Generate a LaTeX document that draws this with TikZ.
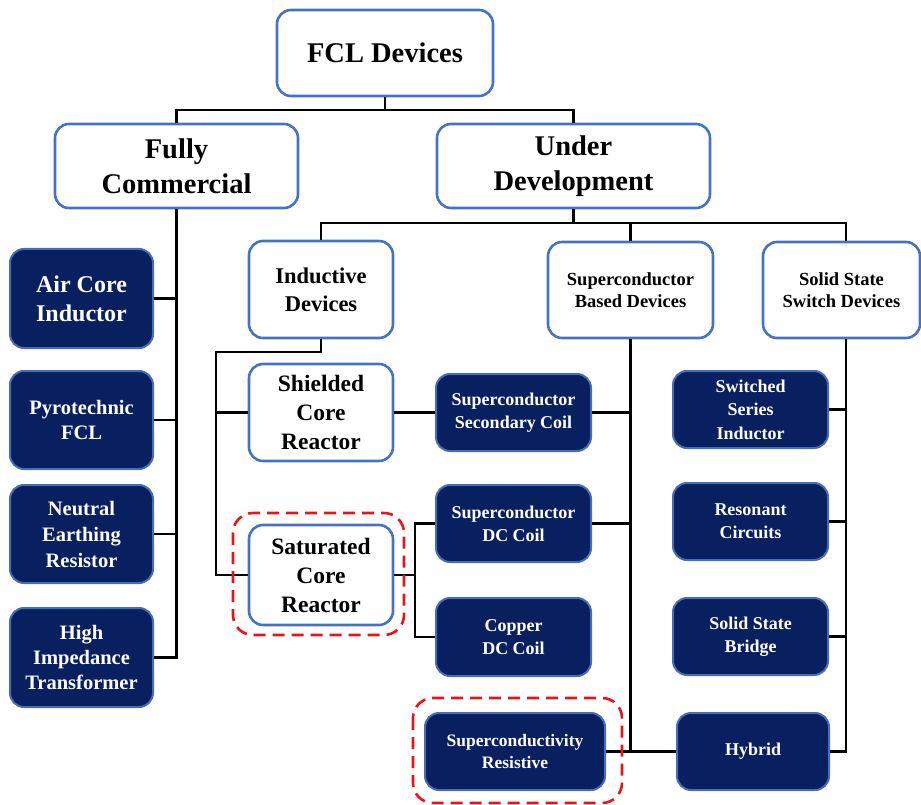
\documentclass[tikz,border=0pt]{standalone}
\usepackage{fontspec}
\setmainfont{Liberation Serif}
\usetikzlibrary{calc}

\definecolor{navyfill}{RGB}{9,32,96}
\definecolor{navyedge}{RGB}{72,108,185}
\definecolor{lightedge}{RGB}{68,114,196}
\definecolor{hlred}{RGB}{232,20,24}

\newcommand{\fs}[2]{\fontsize{#1}{#2}\selectfont}

\tikzset{
  wbox/.style={draw=lightedge, line width=2.6pt, fill=white, rounded corners=14pt,
               align=center, inner sep=0pt, font=\bfseries, text=black},
  dbox/.style={draw=navyedge, line width=2pt, fill=navyfill, rounded corners=14pt,
               align=center, inner sep=0pt, font=\bfseries, text=white},
  conn/.style={draw=black, line width=2.2pt},
  hlbox/.style={draw=hlred, line width=2.6pt, dash pattern=on 12pt off 7pt, rounded corners=20pt},
}

\begin{document}
\begin{tikzpicture}[x=1pt,y=-1pt]
\useasboundingbox (0,0) rectangle (921,805);

% top levels
\node[wbox, minimum width=216pt, minimum height=86pt, font=\bfseries\fs{28.5}{34}] (fcl) at (385,53) {FCL Devices};
\node[wbox, minimum width=243pt, minimum height=84pt, font=\bfseries\fs{28.5}{35}] (fully) at (176.5,166) {Fully\\Commercial};
\node[wbox, minimum width=273pt, minimum height=84pt, font=\bfseries\fs{28.5}{35}] (under) at (573.5,166) {Under\\Development};

% categories under development
\node[wbox, minimum width=144pt, minimum height=97pt, font=\bfseries\fs{22.5}{28}] (induct) at (321,289.5) {Inductive\\Devices};
\node[wbox, minimum width=165pt, minimum height=96pt, font=\bfseries\fs{18.5}{22}] (scbased) at (630.5,290) {Superconductor\\Based Devices};
\node[wbox, minimum width=157pt, minimum height=96pt, font=\bfseries\fs{18.5}{22}] (solid) at (841.5,290) {Solid State\\Switch Devices};
\coordinate (ssx) at (846,289);

% fully commercial devices
\node[dbox, minimum width=143pt, minimum height=99pt, font=\bfseries\fs{24}{29}] (air) at (81.5,298.5) {Air Core\\Inductor};
\node[dbox, minimum width=143pt, minimum height=98pt, font=\bfseries\fs{20.5}{25}] (pyro) at (81.5,420) {Pyrotechnic\\FCL};
\node[dbox, minimum width=143pt, minimum height=98pt, font=\bfseries\fs{20.5}{26}] (neutral) at (81.5,534) {Neutral\\Earthing\\Resistor};
\node[dbox, minimum width=143pt, minimum height=99pt, font=\bfseries\fs{20.5}{25}] (high) at (81.5,657.5) {High\\Impedance\\Transformer};

% inductive devices
\node[wbox, minimum width=144pt, minimum height=97pt, font=\bfseries\fs{23.5}{29}] (shield) at (321,412.5) {Shielded\\Core\\Reactor};
\node[wbox, minimum width=144pt, minimum height=100pt, font=\bfseries\fs{23.5}{29}] (sat) at (321,575) {Saturated\\Core\\Reactor};

% superconductor based devices
\node[dbox, minimum width=155pt, minimum height=77pt, font=\bfseries\fs{18}{23}] (seccoil) at (513.5,412.5) {Superconductor\\Secondary Coil};
\node[dbox, minimum width=155pt, minimum height=77pt, font=\bfseries\fs{18}{23}] (dccoil) at (513.5,523.5) {Superconductor\\DC Coil};
\node[dbox, minimum width=155pt, minimum height=78pt, font=\bfseries\fs{18}{23}] (copper) at (513.5,637) {Copper\\DC Coil};
\node[dbox, minimum width=180pt, minimum height=77pt, font=\bfseries\fs{17.5}{22}] (supres) at (515,751.5) {Superconductivity\\Resistive};

% solid state switch devices
\node[dbox, minimum width=155pt, minimum height=77pt, font=\bfseries\fs{18}{23.5}] (switched) at (750.5,409.5) {Switched\\Series\\Inductor};
\node[dbox, minimum width=155pt, minimum height=77pt, font=\bfseries\fs{18}{23}] (resonant) at (750.5,521.5) {Resonant\\Circuits};
\node[dbox, minimum width=155pt, minimum height=77pt, font=\bfseries\fs{18}{23}] (bridge) at (750.5,636.5) {Solid State\\Bridge};
\node[dbox, minimum width=152pt, minimum height=77pt, font=\bfseries\fs{18}{23}] (hybrid) at (753,751.5) {Hybrid};

% connectors: top levels
\coordinate (topbus) at (385,110);
\draw[conn] (fcl.south) -- (topbus);
\draw[conn] (fully.north) |- (topbus) -| (under.north);

\coordinate (udbus) at (573.5,223);
\draw[conn] (under.south) -- (udbus);
\draw[conn] (induct.north) |- (udbus) -| (ssx |- solid.north);
\draw[conn] (scbased.north) -- (scbased.north |- udbus);

% fully commercial bus
\coordinate (fcx) at (178,657.5);
\draw[conn] (fully.south) -- (fully.south |- high.east) -- (high.east);
\draw[conn] (air.east) -- (air.east -| fcx);
\draw[conn] (pyro.east) -- (pyro.east -| fcx);
\draw[conn] (neutral.east) -- (neutral.east -| fcx);

% inductive devices bus
\coordinate (indbus) at (216,352);
\draw[conn] (induct.south) |- (indbus) |- (sat.west);
\draw[conn] (shield.west) -- (shield.west -| indbus);

% shielded core reactor and superconductor secondary coil
\draw[conn] (shield.east) -- (seccoil.west);

% saturated core reactor bias coils
\coordinate (satbus) at (415,575);
\draw[conn] (sat.east) -- (satbus);
\draw[conn] (dccoil.west) -| (satbus) |- (copper.west);

% superconductor based bus
\draw[conn] (scbased.south) -- (scbased.south |- hybrid.west);
\draw[conn] (seccoil.east) -- (seccoil.east -| scbased.south);
\draw[conn] (dccoil.east) -- (dccoil.east -| scbased.south);
\draw[conn] (supres.east) -- (hybrid.west);

% solid state bus
\draw[conn] (ssx |- solid.south) |- (hybrid.east);
\draw[conn] (switched.east) -- (switched.east -| ssx);
\draw[conn] (resonant.east) -- (resonant.east -| ssx);
\draw[conn] (bridge.east) -- (bridge.east -| ssx);

% highlighted devices
\draw[hlbox] (233,513) rectangle (404,635);
\draw[hlbox] (413,698) rectangle (622,803);
\end{tikzpicture}
\end{document}
